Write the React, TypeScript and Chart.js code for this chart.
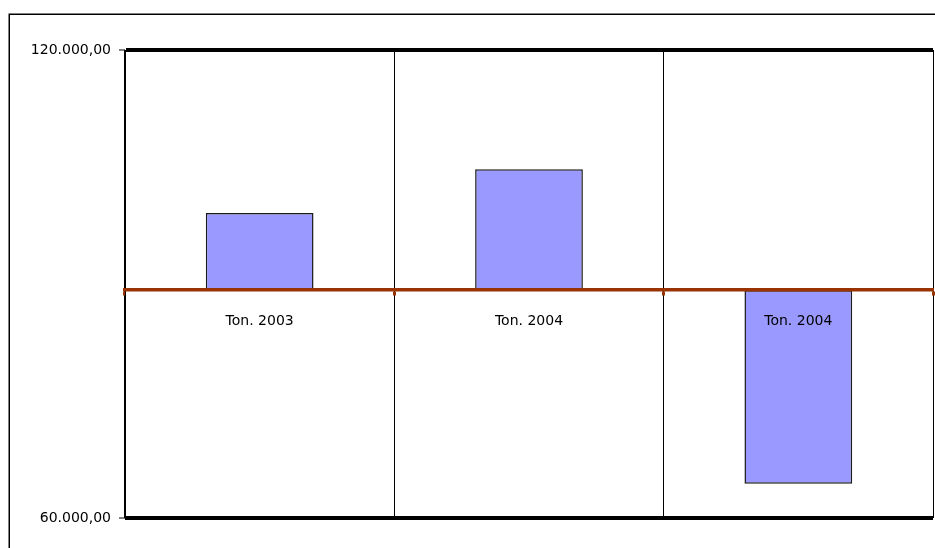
import React, { useEffect, useRef } from "react";
import { Chart, registerables } from "chart.js";

Chart.register(...registerables);

const categories = ["Ton. 2003", "Ton. 2004", "Ton. 2004"];
const baseValue = 89200;
const tonValues = [99100, 104700, 64400];
const yMin = 60000;
const yMax = 120000;

function formatNum(v: number): string {
  const fixed = Math.abs(v).toFixed(2);
  const [intPart, dec] = fixed.split(".");
  const withDots = intPart.replace(/\B(?=(\d{3})+(?!\d))/g, ".");
  return (v < 0 ? "-" : "") + withDots + "," + dec;
}

const borderPlugin = {
  id: "outerBorder",
  beforeDraw(chart: any) {
    const ctx = chart.ctx;
    ctx.save();
    ctx.fillStyle = "#ffffff";
    ctx.fillRect(0, 0, chart.width, chart.height);
    ctx.strokeStyle = "#000000";
    ctx.lineWidth = 1.5;
    ctx.strokeRect(9.25, 14.25, chart.width + 20, chart.height + 20);
    ctx.restore();
  },
};

export default function App() {
  const ref = useRef<HTMLCanvasElement | null>(null);

  useEffect(() => {
    if (!ref.current) return;
    const font = { family: "DejaVu Sans", size: 14 };
    const chart = new Chart(ref.current, {
      type: "bar",
      data: {
        labels: categories,
        datasets: [
          {
            label: "Ton.",
            data: tonValues.map((v) => [baseValue, v]) as any,
            backgroundColor: "#9999FF",
            borderColor: "#1a1a1a",
            borderWidth: 1.5,
            borderSkipped: false,
            categoryPercentage: 1,
            barPercentage: 0.4,
          },
        ],
      },
      options: {
        responsive: false,
        animation: false,
        devicePixelRatio: 1,
        layout: { padding: { left: 0, top: 50, right: 2, bottom: 30 } },
        plugins: {
          legend: { display: false },
          tooltip: { enabled: false },
          title: { display: false },
        },
        scales: {
          x: {
            type: "category",
            position: { y: baseValue } as any,
            offset: true,
            grid: {
              offset: true,
              color: "#000000",
              lineWidth: 1,
              tickLength: 4,
              tickColor: "#993300",
              tickWidth: 3,
            },
            border: { color: "#993300", width: 3.5, z: 1 } as any,
            ticks: { font, color: "#000000", padding: 19, maxRotation: 0, z: 2 } as any,
          },
          y: {
            min: yMin,
            max: yMax,
            afterFit: (scale: any) => {
              scale.width = 125;
            },
            grid: {
              color: "#000000",
              lineWidth: 4,
              tickLength: 6,
              tickColor: "#000000",
              tickWidth: 1,
            },
            border: { color: "#000000", width: 1 },
            ticks: {
              stepSize: 60000,
              font,
              color: "#000000",
              padding: 8,
              callback: (v: any) => formatNum(Number(v)),
            },
          },
        },
      },
      plugins: [borderPlugin],
    });
    return () => chart.destroy();
  }, []);

  return (
    <div style={{ position: "fixed", left: 0, top: 0, width: 935, height: 548, overflow: "hidden", background: "#fff" }}>
      <canvas ref={ref} width={935} height={548} style={{ width: 935, height: 548, display: "block" }} />
    </div>
  );
}
